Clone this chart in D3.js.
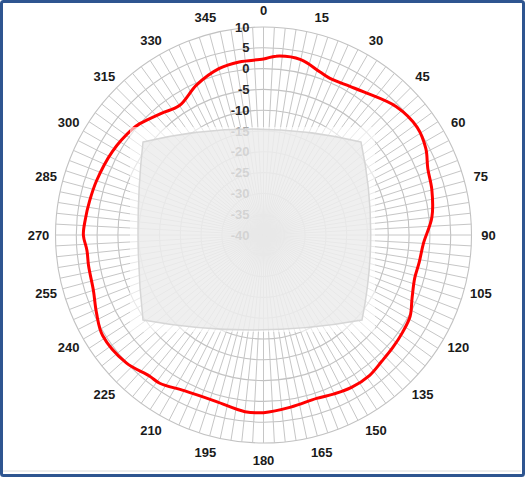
<!DOCTYPE html>
<html>
<head>
<meta charset="utf-8">
<script src="https://cdn.jsdelivr.net/npm/d3@7"></script>
<style>
  html, body { margin: 0; padding: 0; background: #fff; }
  svg { display: block; }
</style>
</head>
<body>
<svg id="chart" width="525" height="477"></svg>
<script>
"use strict";

// gain pattern (degrees -> dB)
var angles = [0, 4, 12, 19, 23, 30, 35, 46, 55, 62, 68, 75, 84, 93, 100, 106, 113, 119, 125, 131,
	137, 143, 150, 156, 162, 171, 180, 186, 196, 207, 215, 219, 227, 238, 245, 252, 260, 265, 270,
	275, 281, 288, 299, 309, 312, 320, 327, 336, 345, 352];
var gains = [2.3, 3.1, 3.1, 1.5, 0.9, 1.3, 2.0, 4.4, 5.1, 4.2, 2.6, 1.9, 0.7, -1.5, -2.0, -2.2, -1.2, 0.3, 0.8, 1.2,
	1.6, 2.3, 2.3, 1.8, 1.3, 1.9, 2.7, 2.7, 1.6, 2.0, 3.5, 3.6, 5.1, 5.6, 4.3, 3.0, 2.7, 2.6, 3.3,
	3.0, 2.6, 2.2, 1.5, 0.5, 0.0, -1.8, -2.9, -0.5, 1.4, 2.0];

var radialTicks = [10, 5, 0, -5, -10, -15, -20, -25, -30, -35, -40];
var angleLabels = [0, 15, 30, 45, 60, 75, 90, 105, 120, 135, 150, 165, 180, 195, 210, 225, 240, 255, 270, 285, 300, 315, 330, 345];
var spokeStep = 3;

var cx = 263.5, cy = 235, R = 208;

var svg = d3.select("#chart");

// frame
svg.append("line")
	.attr("x1", 3).attr("x2", 521).attr("y1", 471).attr("y2", 471)
	.attr("stroke", "#dcdcdc").attr("stroke-width", 1);
svg.append("rect")
	.attr("x", 1.5).attr("y", 1.5).attr("width", 522).attr("height", 474)
	.attr("rx", 2)
	.attr("fill", "none").attr("stroke", "#2e5590").attr("stroke-width", 3);

var r = d3.scaleLinear().domain([-40, 10]).range([0, R]);
var a = d3.scaleLinear().domain([0, 360]).range([0, 2 * Math.PI]);

var g = svg.append("g").attr("transform", "translate(" + cx + "," + cy + ")");

// rings
g.selectAll("circle.ring")
	.data(radialTicks.filter(function(d) { return d > -40; }))
	.enter().append("circle")
	.attr("class", "ring")
	.attr("r", function(d) { return r(d); })
	.attr("fill", "none")
	.attr("stroke", "#c2c2c2")
	.attr("stroke-width", 1.1);

// spokes
g.selectAll("line.spoke")
	.data(d3.range(0, 360, spokeStep))
	.enter().append("line")
	.attr("class", "spoke")
	.attr("x1", 0).attr("y1", 0)
	.attr("x2", function(d) { return r(10) * Math.sin(a(d)); })
	.attr("y2", function(d) { return -r(10) * Math.cos(a(d)); })
	.attr("stroke", "#c6c6c6")
	.attr("stroke-width", 1);

// radial axis labels
g.selectAll("text.rtick")
	.data(radialTicks)
	.enter().append("text")
	.attr("class", "rtick")
	.attr("x", -14)
	.attr("y", function(d) { return -r(d); })
	.attr("dy", "0.36em")
	.attr("text-anchor", "end")
	.style("font-family", "'Liberation Sans', Arial, sans-serif")
	.style("font-weight", "bold")
	.style("font-size", "13px")
	.attr("fill", "#262626")
	.text(function(d) { return d; });

// pattern
var line = d3.lineRadial()
	.angle(function(d) { return a(d[0]); })
	.radius(function(d) { return r(d[1]); })
	.curve(d3.curveCatmullRomClosed.alpha(0.5));

g.append("path")
	.datum(d3.zip(angles, gains))
	.attr("d", line)
	.attr("fill", "none")
	.attr("stroke", "#ff0000")
	.attr("stroke-width", 3)
	.attr("stroke-linejoin", "round");

// pasted-over patch in the middle of the chart
svg.append("rect")
	.attr("x", 130).attr("y", 127).attr("width", 245).attr("height", 205)
	.attr("fill", "#ffffff").attr("opacity", 0.6);
svg.append("path")
	.attr("d", "M143,142 Q252,116 361,142 Q380,231 362,320 Q252,340 143,320 Q133,231 143,142 Z")
	.attr("fill", "#e8e8e8").attr("fill-opacity", 0.68)
	.attr("stroke", "#d6d6d6").attr("stroke-width", 1.5);

// angle labels
g.selectAll("text.alabel")
	.data(angleLabels)
	.enter().append("text")
	.attr("class", "alabel")
	.attr("x", function(d) { return 225 * Math.sin(a(d)); })
	.attr("y", function(d) { return -225 * Math.cos(a(d)); })
	.attr("dy", "0.36em")
	.attr("text-anchor", "middle")
	.style("font-family", "'Liberation Sans', Arial, sans-serif")
	.style("font-weight", "bold")
	.style("font-size", "13px")
	.attr("fill", "#1a1a1a")
	.text(function(d) { return d; });
</script>
</body>
</html>
